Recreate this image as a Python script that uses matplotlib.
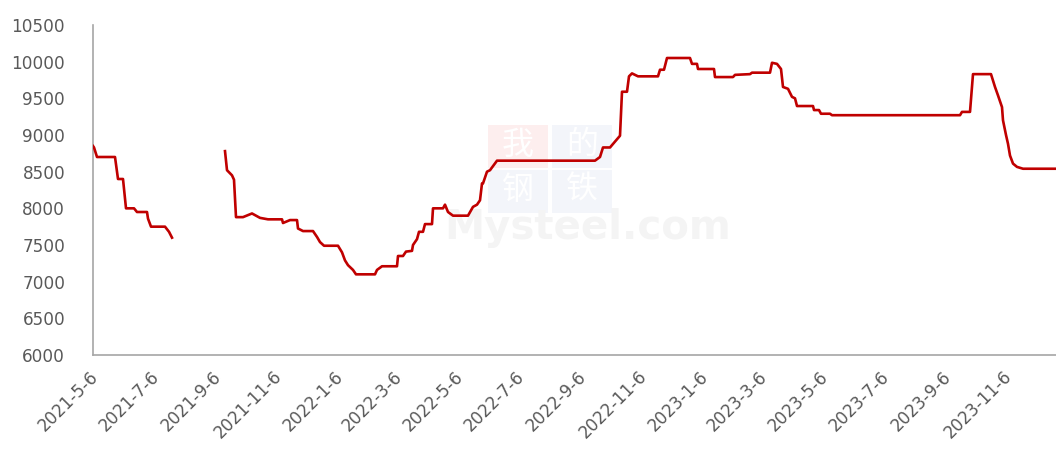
import matplotlib
matplotlib.use("Agg")
import matplotlib.pyplot as plt
import matplotlib.transforms as mtransforms
import numpy as np
import pandas as pd
from matplotlib.patches import Rectangle

# ---- data ----
seg1_dates = ["2021-05-06", "2021-05-07", "2021-05-10", "2021-05-28", "2021-05-31", "2021-06-05",
              "2021-06-08", "2021-06-16", "2021-06-19", "2021-06-29", "2021-06-30", "2021-07-03",
              "2021-07-17", "2021-07-21", "2021-07-24"]
seg1_values = [8850, 8830, 8700, 8700, 8400, 8400,
               8000, 8000, 7950, 7950, 7860, 7750,
               7750, 7680, 7600]

seg2_dates = ["2021-09-15", "2021-09-17", "2021-09-22", "2021-09-24", "2021-09-26", "2021-10-03",
              "2021-10-12", "2021-10-20", "2021-10-28", "2021-11-11", "2021-11-12", "2021-11-19",
              "2021-11-26", "2021-11-27", "2021-12-02", "2021-12-12", "2021-12-16", "2021-12-19",
              "2021-12-23", "2022-01-06", "2022-01-10", "2022-01-13", "2022-01-16", "2022-01-21",
              "2022-01-24", "2022-02-12", "2022-02-14", "2022-02-19", "2022-03-06", "2022-03-07",
              "2022-03-12", "2022-03-15", "2022-03-21", "2022-03-22", "2022-03-26", "2022-03-28",
              "2022-04-01", "2022-04-03", "2022-04-10", "2022-04-11", "2022-04-21", "2022-04-23",
              "2022-04-26", "2022-05-01", "2022-05-16", "2022-05-21", "2022-05-25", "2022-05-28",
              "2022-05-30", "2022-05-31", "2022-06-04", "2022-06-07", "2022-06-14", "2022-09-20",
              "2022-09-25", "2022-09-28", "2022-10-05", "2022-10-15", "2022-10-17", "2022-10-22",
              "2022-10-24", "2022-10-27", "2022-11-02", "2022-11-22", "2022-11-24", "2022-11-28",
              "2022-12-01", "2022-12-24", "2022-12-26", "2022-12-31", "2023-01-01", "2023-01-17",
              "2023-01-18", "2023-02-05", "2023-02-07", "2023-02-22", "2023-02-24", "2023-03-14",
              "2023-03-16", "2023-03-21", "2023-03-25", "2023-03-27", "2023-04-01", "2023-04-05",
              "2023-04-08", "2023-04-10", "2023-04-26", "2023-04-27", "2023-05-02", "2023-05-04",
              "2023-05-13", "2023-05-15", "2023-09-20", "2023-09-22", "2023-09-30", "2023-10-03",
              "2023-10-21", "2023-10-25", "2023-10-28", "2023-11-01", "2023-11-02", "2023-11-05",
              "2023-11-07", "2023-11-09", "2023-11-12", "2023-11-16", "2023-11-22", "2023-12-28"]
seg2_values = [8780, 8520, 8450, 8390, 7880, 7880,
               7930, 7870, 7850, 7850, 7800, 7840,
               7840, 7725, 7690, 7690, 7610, 7540,
               7490, 7490, 7400, 7290, 7225, 7160,
               7100, 7100, 7160, 7210, 7210, 7350,
               7350, 7410, 7420, 7500, 7580, 7680,
               7680, 7785, 7785, 8000, 8000, 8050,
               7950, 7900, 7900, 8020, 8050, 8110,
               8340, 8340, 8500, 8520, 8650, 8650,
               8700, 8830, 8830, 8990, 9590, 9590,
               9800, 9840, 9800, 9800, 9890, 9890,
               10050, 10050, 9970, 9970, 9900, 9900,
               9790, 9790, 9820, 9830, 9850, 9850,
               9985, 9970, 9900, 9655, 9630, 9520,
               9500, 9395, 9395, 9340, 9340, 9290,
               9290, 9270, 9270, 9315, 9315, 9830,
               9830, 9655, 9540, 9380, 9200, 9000,
               8880, 8720, 8610, 8565, 8540, 8540]

tick_dates = ["2021-05-06", "2021-07-06", "2021-09-06", "2021-11-06", "2022-01-06", "2022-03-06",
              "2022-05-06", "2022-07-06", "2022-09-06", "2022-11-06", "2023-01-06", "2023-03-06",
              "2023-05-06", "2023-07-06", "2023-09-06", "2023-11-06"]
tick_labels = ["2021-5-6", "2021-7-6", "2021-9-6", "2021-11-6", "2022-1-6", "2022-3-6",
               "2022-5-6", "2022-7-6", "2022-9-6", "2022-11-6", "2023-1-6", "2023-3-6",
               "2023-5-6", "2023-7-6", "2023-9-6", "2023-11-6"]
y_ticks = [6000, 6500, 7000, 7500, 8000, 8500, 9000, 9500, 10000, 10500]

# ---- figure ----
W, H = 1056, 457
fig = plt.figure(figsize=(W / 100, H / 100), dpi=100)
ax = fig.add_axes([93 / W, 1 - 355 / H, 1 - 93 / W, (355 - 25) / H])
ax.set_zorder(2)

# watermark (figure coordinates in pixels)
def px(x, y):
    return x / W, 1 - y / H

wm_boxes = [(488, 125, "#fdeeee", "我"), (552, 125, "#f3f5fa", "的"),
            (488, 170, "#f3f5fa", "钢"), (552, 170, "#f3f5fa", "铁")]
for x0, y0, col, ch in wm_boxes:
    fx, fy = px(x0, y0 + 43)
    fig.patches.append(Rectangle((fx, fy), 60 / W, 43 / H, transform=fig.transFigure,
                                 facecolor=col, edgecolor="none", zorder=0))
    cx, cy = px(x0 + 30, y0 + 20)
    fig.text(cx, cy, ch, family=["Noto Sans CJK SC"], fontsize=23, color="white",
             ha="center", va="center", zorder=0.5)
mx, my = px(588, 228)
fig.text(mx, my, "Mysteel.com", fontsize=29, fontweight="bold", color="#f4f4f4",
         ha="center", va="center", zorder=0.6)

ax.patch.set_alpha(0)
d1 = pd.to_datetime(seg1_dates)
d2 = pd.to_datetime(seg2_dates)
ax.plot(d1, seg1_values, color="#C00000", lw=1.9, solid_joinstyle="round", zorder=3)
ax.plot(d2, seg2_values, color="#C00000", lw=1.9, solid_joinstyle="round", zorder=3)

ax.set_xlim(pd.Timestamp("2021-05-06"), pd.Timestamp("2023-12-25"))
ax.set_ylim(6000, 10500)
ax.set_yticks(y_ticks)
ax.set_yticklabels([str(v) for v in y_ticks])
ax.set_xticks(pd.to_datetime(tick_dates))
ax.set_xticklabels(tick_labels, rotation=45, ha="right", rotation_mode="anchor")

for s in ["top", "right"]:
    ax.spines[s].set_visible(False)
for s in ["left", "bottom"]:
    ax.spines[s].set_color("#a6a6a6")
    ax.spines[s].set_linewidth(1.2)
ax.tick_params(axis="both", length=0, labelsize=12.2, labelcolor="#595959")
ax.tick_params(axis="y", pad=20)
ax.tick_params(axis="x", pad=9)
shift = mtransforms.ScaledTranslation(-4 / 100, 0, fig.dpi_scale_trans)
for lbl in ax.get_xticklabels():
    lbl.set_transform(lbl.get_transform() + shift)

fig.savefig("out.png", dpi=100)
